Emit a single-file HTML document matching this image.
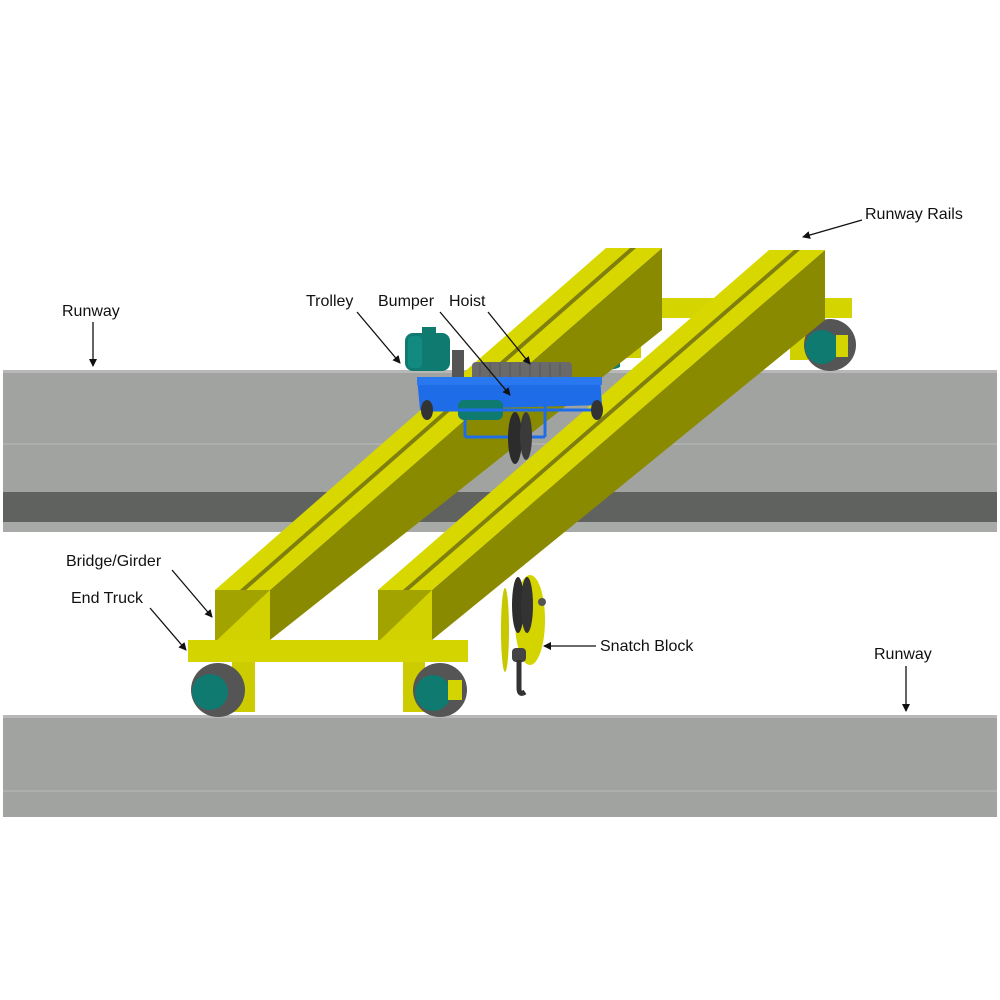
<!DOCTYPE html>
<html><head><style>
html,body{margin:0;padding:0;background:#fff;}
svg{display:block;}
text{font-family:"Liberation Sans",sans-serif;font-size:16px;fill:#111;}
</style></head><body>
<svg width="1000" height="1000" viewBox="0 0 1000 1000" xmlns="http://www.w3.org/2000/svg">
<defs>
<marker id="ah" markerWidth="8" markerHeight="8" refX="7" refY="4" orient="auto" markerUnits="userSpaceOnUse">
<path d="M0,0 L8,4 L0,8 z" fill="#111"/></marker>
</defs>
<!-- top runway -->
<rect x="3" y="370" width="994" height="122" fill="#a1a3a1"/>
<rect x="3" y="370" width="994" height="3" fill="#b8b8b8"/>
<rect x="3" y="443" width="994" height="2" fill="#adafad"/>
<rect x="3" y="492" width="994" height="30" fill="#606260"/>
<rect x="3" y="522" width="994" height="10" fill="#a8aaa8"/>
<!-- bottom runway -->
<rect x="3" y="715" width="994" height="102" fill="#a1a3a1"/>
<rect x="3" y="715" width="994" height="3" fill="#b8b8b8"/>
<rect x="3" y="790" width="994" height="2" fill="#adafad"/>

<!-- far end truck -->
<rect x="660" y="298" width="192" height="20" fill="#d4d400"/>
<rect x="625" y="318" width="16" height="40" fill="#d0d000"/>
<rect x="790" y="318" width="18" height="42" fill="#d0d000"/>
<circle cx="830" cy="345" r="26" fill="#555"/>
<circle cx="822" cy="347" r="17" fill="#0f7a70"/>
<rect x="836" y="335" width="12" height="22" fill="#d4d400"/>
<path d="M590,355 a20,18 0 0 0 30,12 l0,-18z" fill="#0f7a70"/>

<!-- left girder -->
<polygon points="270,590 662,248 662,330 270,640" fill="#8a8a00"/>
<polygon points="215,590 270,590 662,248 606,248" fill="#d8d800"/>
<polygon points="240,590 246,590 636,248 630,248" fill="#7f7f10"/>
<rect x="215" y="590" width="55" height="52" fill="#d2d200"/>
<polygon points="215,590 270,590 215,642" fill="#a3a300"/>

<!-- right girder -->
<polygon points="432,590 825,250 825,320 432,640" fill="#8a8a00"/>
<polygon points="378,590 432,590 825,250 769,250" fill="#d8d800"/>
<polygon points="403,590 409,590 800,250 794,250" fill="#7f7f10"/>
<rect x="378" y="590" width="54" height="52" fill="#d2d200"/>
<polygon points="378,590 432,590 378,642" fill="#a3a300"/>

<!-- near end truck -->
<rect x="188" y="640" width="280" height="22" fill="#d4d400"/>
<rect x="232" y="662" width="23" height="50" fill="#cccc00"/>
<rect x="403" y="662" width="22" height="50" fill="#cccc00"/>
<circle cx="218" cy="690" r="27" fill="#555"/>
<circle cx="210" cy="692" r="18" fill="#0f7a70"/>
<circle cx="440" cy="690" r="27" fill="#555"/>
<circle cx="433" cy="693" r="18" fill="#0f7a70"/>
<rect x="448" y="680" width="14" height="20" fill="#d4d400"/>

<!-- trolley -->
<rect x="405" y="333" width="45" height="38" rx="8" fill="#0f7a70"/>
<rect x="408" y="336" width="14" height="32" rx="4" fill="#138a80"/>
<rect x="422" y="327" width="14" height="8" fill="#0f7a70"/>
<rect x="452" y="350" width="12" height="28" fill="#555"/>
<rect x="472" y="362" width="100" height="25" rx="4" fill="#6a6a6a"/>
<g stroke="#555" stroke-width="1">
<line x1="480" y1="363" x2="480" y2="386"/><line x1="490" y1="363" x2="490" y2="386"/><line x1="500" y1="363" x2="500" y2="386"/><line x1="510" y1="363" x2="510" y2="386"/><line x1="520" y1="363" x2="520" y2="386"/><line x1="530" y1="363" x2="530" y2="386"/><line x1="540" y1="363" x2="540" y2="386"/><line x1="550" y1="363" x2="550" y2="386"/><line x1="560" y1="363" x2="560" y2="386"/>
</g>
<polygon points="417,377 600,377 602,405 420,410" fill="#1e6ce8"/>
<rect x="417" y="377" width="185" height="8" fill="#2a78f0"/>
<rect x="458" y="400" width="45" height="20" rx="6" fill="#0f7a70"/>
<g stroke="#1e6ce8" stroke-width="3" fill="none">
<line x1="425" y1="410" x2="600" y2="410"/><line x1="465" y1="420" x2="465" y2="437"/><line x1="465" y1="437" x2="545" y2="437"/><line x1="545" y1="405" x2="545" y2="437"/>
</g>
<ellipse cx="427" cy="410" rx="6" ry="10" fill="#333"/>
<ellipse cx="597" cy="410" rx="6" ry="10" fill="#333"/>
<ellipse cx="515" cy="438" rx="7" ry="26" fill="#2c2c2c"/>
<ellipse cx="526" cy="436" rx="6" ry="24" fill="#3a3a3a"/>

<!-- snatch block -->
<ellipse cx="530" cy="620" rx="15" ry="45" fill="#d4d400"/>
<ellipse cx="518" cy="605" rx="6" ry="28" fill="#2c2c2c"/>
<ellipse cx="527" cy="605" rx="6" ry="28" fill="#333"/>
<circle cx="542" cy="602" r="4" fill="#555"/>
<rect x="512" y="648" width="14" height="14" rx="4" fill="#444"/>
<path d="M519,660 L519,688 q0,8 6,4" stroke="#333" stroke-width="5" fill="none"/>
<ellipse cx="505" cy="630" rx="4" ry="42" fill="#c8c800"/>

<!-- labels -->
<text x="62" y="316">Runway</text>
<line x1="93" y1="322" x2="93" y2="366" stroke="#111" stroke-width="1.3" marker-end="url(#ah)"/>
<text x="865" y="219">Runway Rails</text>
<line x1="862" y1="220" x2="803" y2="237" stroke="#111" stroke-width="1.3" marker-end="url(#ah)"/>
<text x="306" y="306">Trolley</text>
<line x1="357" y1="312" x2="400" y2="363" stroke="#111" stroke-width="1.3" marker-end="url(#ah)"/>
<text x="378" y="306">Bumper</text>
<line x1="440" y1="312" x2="510" y2="395" stroke="#111" stroke-width="1.3" marker-end="url(#ah)"/>
<text x="449" y="306">Hoist</text>
<line x1="488" y1="312" x2="530" y2="364" stroke="#111" stroke-width="1.3" marker-end="url(#ah)"/>
<text x="66" y="566">Bridge/Girder</text>
<line x1="172" y1="570" x2="212" y2="617" stroke="#111" stroke-width="1.3" marker-end="url(#ah)"/>
<text x="71" y="603">End Truck</text>
<line x1="150" y1="608" x2="186" y2="650" stroke="#111" stroke-width="1.3" marker-end="url(#ah)"/>
<text x="600" y="651">Snatch Block</text>
<line x1="596" y1="646" x2="544" y2="646" stroke="#111" stroke-width="1.3" marker-end="url(#ah)"/>
<text x="874" y="659">Runway</text>
<line x1="906" y1="666" x2="906" y2="711" stroke="#111" stroke-width="1.3" marker-end="url(#ah)"/>
</svg>
</body></html>
